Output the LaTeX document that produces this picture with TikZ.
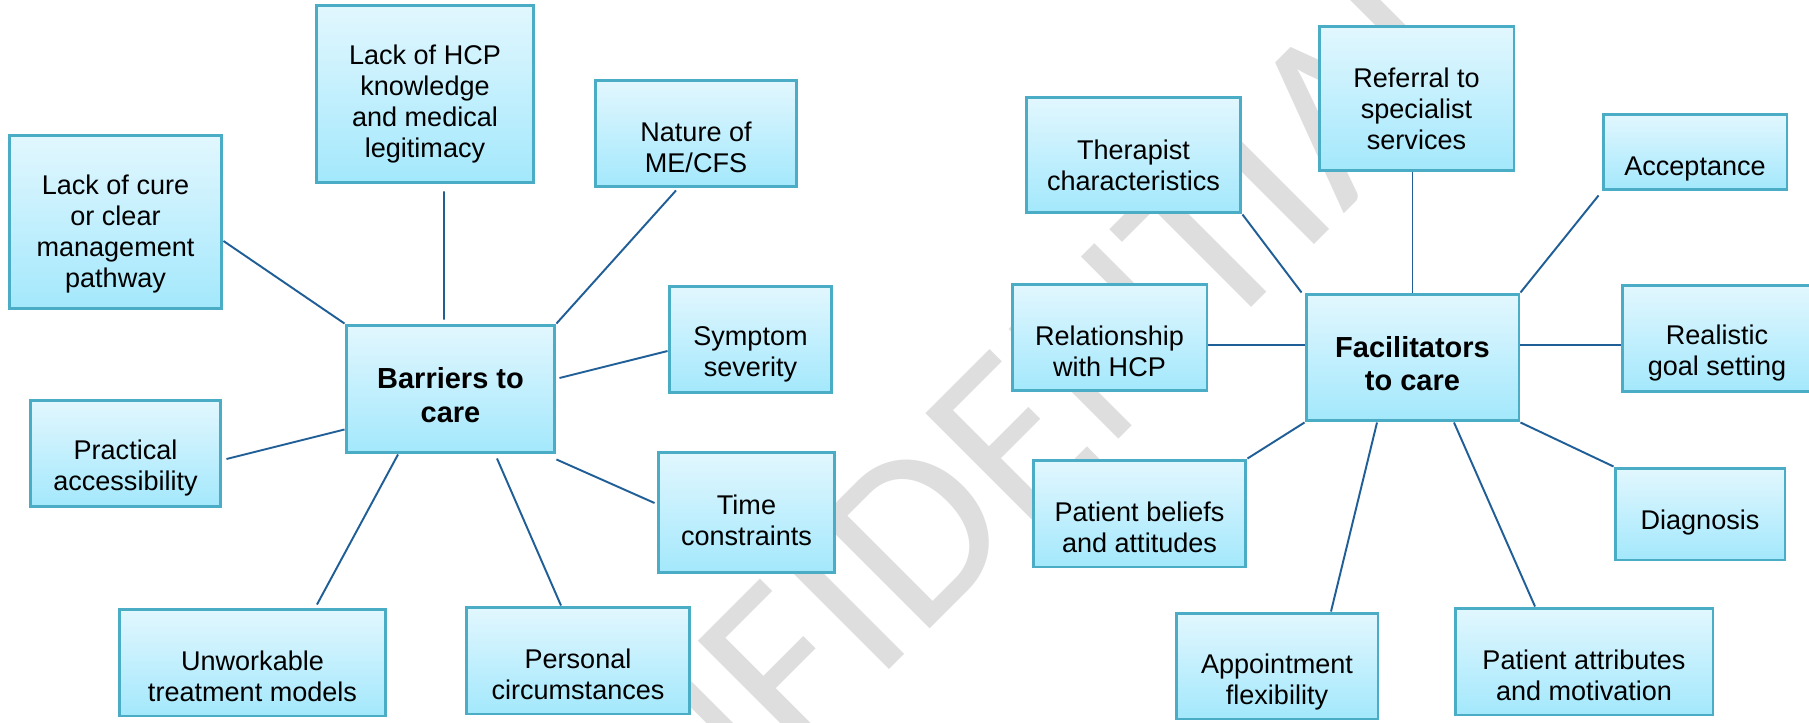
\documentclass[tikz,border=0pt]{standalone}
\usepackage{fontspec}
\setmainfont{Liberation Sans}
\newfontfamily\wmfont{Carlito}
\usetikzlibrary{calc}

\definecolor{boxline}{HTML}{4BACC6}
\definecolor{boxtop}{HTML}{E2F7FE}
\definecolor{boxbottom}{HTML}{A3E8FC}
\definecolor{linkblue}{HTML}{1F5E96}
\definecolor{wmgray}{HTML}{DEDEDE}

\tikzset{
        box/.style={draw=boxline, line width=1.7pt, top color=boxtop, bottom color=boxbottom,
                align=center, inner sep=0pt, text height=1.58cm,
                font=\fontsize{15.4}{17.6}\selectfont},
        hub/.style={box, text height=1.34cm, font=\fontsize{16.5}{19.1}\selectfont\bfseries},
        link/.style={draw=linkblue, line width=1.1pt},
}

\begin{document}
\begin{tikzpicture}[x=0.02cm, y=-0.02cm]

        \useasboundingbox (0,0) rectangle (1809,723);
        \clip (0,0) rectangle (1809,723);
        \fill[white] (0,0) rectangle (1809,723);

        \node[rotate=45, text=wmgray, font=\wmfont\fontsize{137.7}{137.7}\selectfont] (wm) at (944,505) {CONFIDENTIAL};

        \node[hub, minimum width=4.18cm, minimum height=2.56cm] (barr) at (450.5,389) {Barriers to\\care};
        \node[box, minimum width=4.26cm, minimum height=3.48cm, text height=2.74cm] (cure) at (115.5,222) {Lack of cure\\or clear\\management\\pathway};
        \node[box, minimum width=4.36cm, minimum height=3.56cm, text height=2.64cm] (hcp) at (425,94) {Lack of HCP\\knowledge\\and medical\\legitimacy};
        \node[box, minimum width=4.04cm, minimum height=2.14cm] (nature) at (696,133.5) {Nature of\\ME/CFS};
        \node[box, minimum width=3.26cm, minimum height=2.14cm] (symptom) at (750.5,339.5) {Symptom\\severity};
        \node[box, minimum width=3.54cm, minimum height=2.42cm, text height=1.32cm] (time) at (746.5,512.5) {Time\\constraints};
        \node[box, minimum width=4.48cm, minimum height=2.14cm] (personal) at (578,660.5) {Personal\\circumstances};
        \node[box, minimum width=5.34cm, minimum height=2.14cm] (unwork) at (252.5,662.5) {Unworkable\\treatment models};
        \node[box, minimum width=3.82cm, minimum height=2.14cm] (practical) at (125.5,453.5) {Practical\\accessibility};

        \draw[link] ([yshift=-0.38cm]cure.east) -- (barr.north west);
        \draw[link] ([xshift=0.38cm, yshift=-0.14cm]hcp.south) -- ([xshift=-0.13cm, yshift=0.08cm]barr.north);
        \draw[link] ([xshift=-0.4cm, yshift=-0.04cm]nature.south) -- (barr.north east);
        \draw[link] ([yshift=-0.23cm]symptom.west) -- ([xshift=0.06cm, yshift=0.22cm]barr.east);
        \draw[link] ([xshift=-0.04cm, yshift=0.19cm]time.west) -- ([yshift=-0.1cm]barr.south east);
        \draw[link] ([xshift=-0.34cm]personal.north) -- ([xshift=0.93cm, yshift=-0.08cm]barr.south);
        \draw[link] ([xshift=1.29cm, yshift=0.06cm]unwork.north) -- ([xshift=-1.05cm]barr.south);
        \draw[link] ([xshift=0.08cm, yshift=-0.11cm]practical.east) -- ([yshift=0.5cm]barr.south west);

        \node[hub, minimum width=4.26cm, minimum height=2.54cm] (facil) at (1412.5,357.5) {Facilitators\\to care};
        \node[box, minimum width=4.3cm, minimum height=2.32cm, text height=1.41cm] (therapist) at (1133.5,155) {Therapist\\characteristics};
        \node[box, minimum width=3.9cm, minimum height=2.9cm, text height=2.03cm] (referral) at (1416.5,98.5) {Referral to\\specialist\\services};
        \node[box, minimum width=3.68cm, minimum height=1.52cm, text height=1.04cm] (accept) at (1695,152) {Acceptance};
        \node[box, minimum width=3.8cm, minimum height=2.14cm] (realistic) at (1717,338.5) {Realistic\\goal setting};
        \node[box, minimum width=3.9cm, minimum height=2.14cm] (relation) at (1109.5,337.5) {Relationship\\with HCP};
        \node[box, minimum width=4.26cm, minimum height=2.14cm] (beliefs) at (1139.5,513.5) {Patient beliefs\\and attitudes};
        \node[box, minimum width=3.4cm, minimum height=1.84cm, text height=0.72cm] (diagnosis) at (1700,514) {Diagnosis};
        \node[box, minimum width=4.04cm, minimum height=2.12cm, text height=1.64cm] (appoint) at (1277,666) {Appointment\\flexibility};
        \node[box, minimum width=5.16cm, minimum height=2.14cm] (attrib) at (1584,661.5) {Patient attributes\\and motivation};

        \coordinate (fr) at ([yshift=0.25cm]facil.east);
        \coordinate (fl) at ([yshift=0.25cm]facil.west);

        \draw[link] (therapist.south east) -- ([xshift=-0.06cm]facil.north west);
        \draw[link] (facil.north) -- (facil.north |- referral.south);
        \draw[link] ([xshift=-0.06cm, yshift=-0.08cm]accept.south west) -- (facil.north east);
        \draw[link] (fr) -- (fr -| realistic.west);
        \draw[link] (fl) -- (fl -| relation.east);
        \draw[link] (beliefs.north east) -- (facil.south west);
        \draw[link] (facil.south east) -- (diagnosis.north west);
        \draw[link] ([xshift=1.08cm]appoint.north) -- ([xshift=-0.71cm]facil.south);
        \draw[link] ([xshift=-0.98cm]attrib.north) -- ([xshift=0.83cm]facil.south);

\end{tikzpicture}
\end{document}
